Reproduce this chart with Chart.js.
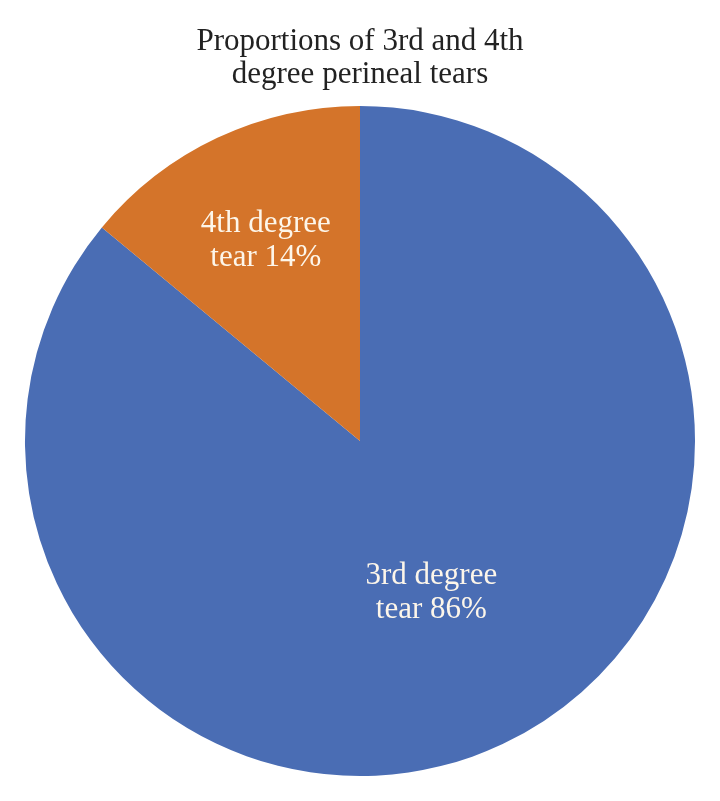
<!DOCTYPE html>
<html lang="en">
<head>
    <meta charset="UTF-8">
    <title>Perineal tears</title>
    <style>
        html, body { margin: 0; padding: 0; background: #fff; }
        #box { position: relative; width: 720px; height: 801px; }
    </style>
</head>
<body>
    <div id="box"><canvas id="myChart"></canvas></div>
    <script src="https://cdn.jsdelivr.net/npm/chart.js"></script>
    <script>
        // data
        const categories = ['3rd degree tear', '4th degree tear']
        const labelLines = [['3rd degree', 'tear 86%'], ['4th degree', 'tear 14%']]
        const values = [86, 14]
        const colors = ['#4a6db4', '#d4742a']
        const titleLines = ['Proportions of 3rd and 4th', 'degree perineal tears']

        // where along the radius the label sits, per slice
        const labelRadius = [0.5, 0.66]

        const sliceLabels = {
            id: 'sliceLabels',
            afterDatasetsDraw(chart) {
                const ctx = chart.ctx
                const meta = chart.getDatasetMeta(0)
                ctx.save()
                ctx.fillStyle = '#fdf6ea'
                ctx.font = '31px "Liberation Serif"'
                ctx.textAlign = 'center'
                ctx.textBaseline = 'middle'
                meta.data.forEach((arc, i) => {
                    const p = arc.getProps(['x', 'y', 'startAngle', 'endAngle', 'outerRadius'], true)
                    const mid = (p.startAngle + p.endAngle) / 2
                    const r = p.outerRadius * labelRadius[i]
                    const cx = p.x + Math.cos(mid) * r
                    const cy = p.y + Math.sin(mid) * r
                    const lines = labelLines[i]
                    const lh = 34
                    lines.forEach((t, j) => {
                        ctx.fillText(t, cx, cy + (j - (lines.length - 1) / 2) * lh)
                    })
                })
                ctx.restore()
            }
        }

        var ctx = document.getElementById('myChart')
        var myChart = new Chart(ctx, {
            type: 'pie',
            data: {
                labels: categories,
                datasets: [{
                    data: values,
                    backgroundColor: colors,
                    borderWidth: 0
                }]
            },
            options: {
                responsive: true,
                maintainAspectRatio: false,
                animation: false,
                layout: { padding: { top: 0, bottom: 25, left: 0, right: 0 } },
                plugins: {
                    legend: { display: false },
                    tooltip: { enabled: false },
                    title: {
                        display: true,
                        text: titleLines,
                        color: '#222',
                        font: { family: 'Liberation Serif', size: 31, weight: 'normal', lineHeight: 1.08 },
                        padding: { top: 25, bottom: 14 }
                    }
                }
            },
            plugins: [sliceLabels]
        })
    </script>
</body>
</html>
